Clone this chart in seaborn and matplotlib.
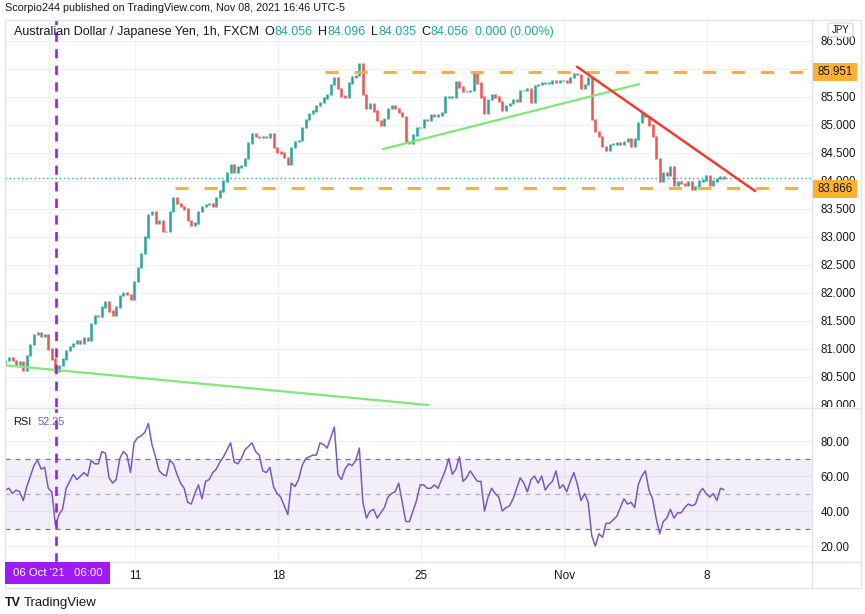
import numpy as np
import pandas as pd
import matplotlib
matplotlib.use("Agg")
import matplotlib.pyplot as plt
import seaborn as sns
from matplotlib.patches import Rectangle, FancyBboxPatch
from matplotlib.lines import Line2D
from matplotlib.transforms import Bbox, TransformedBbox

# ---------------- data (3-hour bars) ----------------
OPEN_FIRST = 80.72
CLOSES = [
    80.80, 80.85, 80.80, 80.72, 80.78, 80.62, 80.88, 81.08, 81.26, 81.30,
    81.22, 81.25, 81.00, 80.82, 80.60, 80.70, 80.82, 80.97, 81.05, 81.10,
    81.15, 81.10, 81.20, 81.15, 81.45, 81.60, 81.58, 81.75, 81.84, 81.68,
    81.60, 81.75, 81.95, 82.00, 81.97, 81.88, 82.20, 82.45, 82.70, 83.00,
    83.40, 83.45, 83.25, 83.30, 83.10, 83.10, 83.45, 83.70, 83.60, 83.55,
    83.50, 83.30, 83.20, 83.25, 83.45, 83.55, 83.58, 83.60, 83.55, 83.70,
    83.82, 84.00, 84.15, 84.30, 84.15, 84.25, 84.28, 84.40, 84.68, 84.85,
    84.80, 84.78, 84.80, 84.78, 84.85, 84.60, 84.52, 84.50, 84.42, 84.30,
    84.60, 84.70, 84.72, 84.95, 85.10, 85.20, 85.25, 85.35, 85.40, 85.48,
    85.55, 85.72, 85.85, 85.65, 85.52, 85.50, 85.75, 85.86, 85.88, 86.10,
    85.55, 85.30, 85.38, 85.25, 85.08, 85.00, 85.12, 85.30, 85.35, 85.30,
    85.22, 85.15, 84.70, 84.68, 84.82, 84.95, 84.95, 85.10, 85.08, 85.18,
    85.15, 85.18, 85.22, 85.50, 85.50, 85.50, 85.78, 85.68, 85.60, 85.60,
    85.62, 85.95, 85.75, 85.50, 85.20, 85.45, 85.55, 85.50, 85.42, 85.27,
    85.35, 85.38, 85.45, 85.42, 85.62, 85.62, 85.65, 85.40, 85.70, 85.72,
    85.75, 85.75, 85.75, 85.80, 85.76, 85.80, 85.80, 85.76, 85.85, 85.92,
    85.90, 85.65, 85.72, 85.85, 85.10, 84.88, 84.80, 84.62, 84.55, 84.65,
    84.66, 84.68, 84.66, 84.70, 84.75, 84.62, 84.75, 85.05, 85.20, 85.15,
    85.00, 84.80, 84.40, 84.00, 84.15, 84.10, 84.25, 83.92, 83.98, 83.95,
    83.92, 83.98, 83.86, 83.90, 84.00, 84.02, 84.10, 83.92, 84.00, 84.04,
    84.08, 84.056,
]
RSI = [
    52, 53, 50, 52, 51, 46, 54, 60, 66, 69,
    64, 65, 53, 51, 32, 38, 41, 53, 57, 61,
    58, 60, 62, 60, 69, 67, 67, 74, 73, 59,
    56, 58, 70, 74, 72, 62, 79, 82, 83, 85,
    90, 78, 71, 63, 61, 60, 69, 67, 61, 56,
    53, 45, 44, 50, 55, 47, 57, 58, 62, 64,
    68, 71, 75, 79, 68, 67, 70, 75, 77, 79,
    74, 72, 63, 62, 65, 54, 50, 48, 43, 38,
    56, 54, 58, 66, 70, 71, 72, 72, 79, 78,
    76, 82, 88, 61, 58, 64, 67, 66, 69, 76,
    45, 36, 40, 41, 36, 39, 42, 48, 50, 51,
    56, 45, 34, 34, 40, 46, 55, 55, 53, 53,
    55, 53, 58, 63, 70, 61, 64, 71, 57, 59,
    63, 60, 57, 57, 40, 48, 53, 50, 48, 40,
    42, 43, 47, 53, 59, 56, 51, 58, 60, 56,
    60, 52, 55, 57, 63, 53, 55, 51, 57, 62,
    55, 46, 50, 45, 26, 20, 27, 25, 33, 33,
    35, 37, 42, 47, 44, 45, 42, 55, 60, 63,
    52, 47, 36, 27, 34, 36, 41, 36, 39, 39,
    42, 44, 43, 44, 50, 53, 50, 48, 50, 46,
    53, 52.25,
]
RSI_LAST = "52.25"

WEEK_LABELS = ["11", "18", "25", "Nov", "8"]
BARS_PER_WEEK = 40          # 5 trading days of 3-hour bars
FIRST_MONDAY_BAR = 36.3     # Oct 11 00:00
OCT6_BAR = 12.3             # Oct 6 00:00 (label hidden by crosshair)
CROSS_BAR = 14.3            # Oct 6 06:00
CROSS_LABEL = "06 Oct '21   06:00"

LEVEL_HI, LEVEL_HI_FROM = 85.951, 89.4
LEVEL_LO, LEVEL_LO_FROM = 83.866, 47.5
LAST_PRICE = 84.056

GREEN_LOW_X, GREEN_LOW_Y = [-0.1, 118.2], [80.71, 80.00]
GREEN_UP_X, GREEN_UP_Y = [105.6, 177.2], [84.57, 85.73]
RED_X, RED_Y = [159.9, 209.7], [86.04, 83.82]

PRICE_TICKS = [80.0, 80.5, 81.0, 81.5, 82.0, 82.5, 83.0, 83.5, 84.0,
               84.5, 85.0, 85.5, 86.0, 86.5]
HIDDEN_PRICE_LABELS = [86.0]      # covered by the 85.951 marker
RSI_TICKS = [20, 40, 60, 80]

HEADER = "Scorpio244 published on TradingView.com, Nov 08, 2021 16:46 UTC-5"
SYMBOL = "Australian Dollar / Japanese Yen, 1h, FXCM"
OHLC = [("O", "84.056"), ("H", "84.096"), ("L", "84.035"), ("C", "84.056")]
CHANGE = "0.000 (0.00%)"

# ---------------- style ----------------
UP, DOWN = "#26a69a", "#ef5350"
GRID = "#eef0f4"
FRAME = "#e0e3eb"
TXT = "#131722"
PURPLE = "#9d1cf5"
ORANGE = "#ffb02e"
RSI_C = "#7e57c2"

sns.set_style("white")
plt.rcParams['font.family'] = ['Liberation Sans', 'DejaVu Sans']

W, H = 865, 614
fig = plt.figure(figsize=(W / 100, H / 100), dpi=100)
renderer = fig.canvas.get_renderer()


def fx(px):
    return px / W


def fy(py):
    return 1 - py / H


def chain(x0, ypx, parts, size, **kw):
    """Write text parts one after another, starting at pixel x0."""
    x = x0
    arts = []
    for s, color, gap in parts:
        t = fig.text(fx(x), fy(ypx), s, ha='left', va='center', fontsize=size,
                     color=color, **kw)
        w = t.get_window_extent(renderer).width
        x += w + gap * size * 100 / 72.0
        arts.append(t)
    return x, arts


def fitted_chain(x0, x1, ypx, parts, ref_size=10.0, **kw):
    end, arts = chain(x0, ypx, parts, ref_size, **kw)
    for a in arts:
        a.remove()
    size = ref_size * (x1 - x0) / (end - x0)
    chain(x0, ypx, parts, size, **kw)


L, R = 5, 812
XMIN, XMAX = -0.1, 225.6
ax = fig.add_axes([fx(L), fy(407), fx(R) - fx(L), fy(20) - fy(407)])
ax2 = fig.add_axes([fx(L), fy(562), fx(R) - fx(L), fy(408) - fy(562)])

week_pos = [FIRST_MONDAY_BAR + k * BARS_PER_WEEK for k in range(len(WEEK_LABELS))]
grid_pos = [OCT6_BAR] + week_pos

# ---------------- main price pane ----------------
closes = np.array(CLOSES)
opens = np.concatenate([[OPEN_FIRST], closes[:-1]])
bars = np.arange(len(closes))
lo = np.minimum(opens, closes)
hi = np.maximum(opens, closes)
up = closes >= opens

for p in PRICE_TICKS:
    ax.axhline(p, color=GRID, lw=1, zorder=0)
for g in grid_pos:
    ax.axvline(g, color=GRID, lw=1, zorder=0)

ax.vlines(bars[up], lo[up] - 0.012, hi[up] + 0.012, color=UP, lw=1.8, zorder=3)
ax.vlines(bars[~up], lo[~up] - 0.012, hi[~up] + 0.012, color=DOWN, lw=1.8, zorder=3)

ax.axhline(LAST_PRICE, color=UP, lw=1, ls=(0, (1, 2)), zorder=2)
ax.plot([LEVEL_HI_FROM, XMAX], [LEVEL_HI, LEVEL_HI], color=ORANGE, lw=2.2,
        ls=(0, (4.3, 5.2)), zorder=4, solid_capstyle='butt')
ax.plot([LEVEL_LO_FROM, XMAX], [LEVEL_LO, LEVEL_LO], color=ORANGE, lw=2.2,
        ls=(0, (4.3, 5.2)), zorder=4, solid_capstyle='butt')
sns.lineplot(x=GREEN_LOW_X, y=GREEN_LOW_Y, ax=ax, color="#7ee878", lw=1.6, zorder=4)
sns.lineplot(x=GREEN_UP_X, y=GREEN_UP_Y, ax=ax, color="#7ee878", lw=1.6, zorder=4)
sns.lineplot(x=RED_X, y=RED_Y, ax=ax, color="#f23b2e", lw=1.8, zorder=4)
ax.axvline(CROSS_BAR, color=PURPLE, lw=1.9, ls=(0, (3.5, 2.8)), zorder=5)

ax.set_xlim(XMIN, XMAX)
ax.set_ylim(79.964, 86.875)
ax.yaxis.tick_right()
ax.set_yticks(PRICE_TICKS)
ax.set_yticklabels(["" if p in HIDDEN_PRICE_LABELS else f"{p:.3f}" for p in PRICE_TICKS])
ax.tick_params(axis='y', length=0, pad=6, labelsize=8.3, labelcolor=TXT)
ax.tick_params(axis='x', bottom=False, labelbottom=False)
ax.set_xlabel("")
ax.set_ylabel("")
for s in ax.spines.values():
    s.set_visible(False)

# price labels are clipped by the pane (80.000 cut at bottom, 84.000 under the 83.866 marker)
lo_box_top = 181 - (LEVEL_LO - 84.0) * 56 - 9
for p, t in zip(PRICE_TICKS, ax.yaxis.get_major_ticks()):
    bottom_px = lo_box_top if p == 84.0 else 407
    cb = TransformedBbox(Bbox([[fx(L), fy(bottom_px)], [1, fy(20)]]), fig.transFigure)
    t.label2.set_clip_on(True)
    t.label2.set_clip_box(cb)

# ---------------- RSI pane ----------------
df = pd.DataFrame({"bar": np.arange(len(RSI)), "rsi": RSI})
for r in RSI_TICKS:
    ax2.axhline(r, color=GRID, lw=1, zorder=0)
for g in grid_pos:
    ax2.axvline(g, color=GRID, lw=1, zorder=0)
ax2.axhspan(30, 70, color=RSI_C, alpha=0.09, lw=0, zorder=0.5)
ax2.axhline(70, color="#787b86", lw=0.9, ls=(0, (4, 4)), zorder=1)
ax2.axhline(30, color="#787b86", lw=0.9, ls=(0, (4, 4)), zorder=1)
ax2.axhline(50, color="#787b86", lw=0.9, ls=(0, (4, 4)), alpha=0.55, zorder=1)
sns.lineplot(data=df, x="bar", y="rsi", ax=ax2, color=RSI_C, lw=1.1, zorder=3)
ax2.axvline(CROSS_BAR, color=PURPLE, lw=1.9, ls=(0, (3.5, 2.8)), zorder=5)

ax2.set_xlim(XMIN, XMAX)
ax2.set_ylim(10.9, 98.9)
ax2.yaxis.tick_right()
ax2.set_yticks(RSI_TICKS)
ax2.set_yticklabels([f"{r:.2f}" for r in RSI_TICKS])
ax2.tick_params(axis='y', length=0, pad=6, labelsize=8.3, labelcolor=TXT)
ax2.set_xticks(week_pos)
ax2.set_xticklabels(WEEK_LABELS)
ax2.tick_params(axis='x', length=0, pad=6, labelsize=8.5, labelcolor=TXT)
ax2.set_xlabel("")
ax2.set_ylabel("")
for s in ax2.spines.values():
    s.set_visible(False)

# ---------------- frame lines ----------------
def fline(x0, y0, x1, y1, color=FRAME, lw=1.0):
    fig.add_artist(Line2D([fx(x0), fx(x1)], [fy(y0), fy(y1)], color=color, lw=lw,
                          transform=fig.transFigure))

fline(5, 20, 861, 20)
fline(5, 588, 861, 588)
fline(5, 20, 5, 588)
fline(861, 20, 861, 588)
fline(812, 20, 812, 588)
fline(5, 407.5, 861, 407.5)
fline(5, 562, 861, 562)

# ---------------- price-axis markers ----------------
def price_box(price, label):
    py = 181 - (price - 84.0) * 56
    fig.add_artist(Rectangle((fx(813), fy(py + 9)), fx(857) - fx(813), (18 / H),
                             transform=fig.transFigure, facecolor=ORANGE,
                             edgecolor='none', zorder=10))
    fig.text(fx(835), fy(py), label, ha='center', va='center', fontsize=8.3,
             color=TXT, zorder=11)

price_box(LEVEL_HI, f"{LEVEL_HI:.3f}")
price_box(LEVEL_LO, f"{LEVEL_LO:.3f}")

fig.add_artist(FancyBboxPatch((fx(828), fy(37)), fx(853) - fx(828), 14 / H,
                              boxstyle="round,pad=0,rounding_size=0.004",
                              transform=fig.transFigure, facecolor='white',
                              edgecolor="#d1d4dc", lw=0.8, zorder=10))
fig.text(fx(840.5), fy(30), "JPY", ha='center', va='center', fontsize=7.0,
         color=TXT, zorder=11)

# ---------------- header / legend ----------------
fitted_chain(5, 343, 8, [(HEADER, TXT, 0)])
legend_parts = [(SYMBOL, TXT, 0.5)]
for k, v in OHLC:
    legend_parts += [(k, TXT, 0.0), (v, UP, 0.45)]
legend_parts.append((CHANGE, UP, 0))
fitted_chain(13.5, 555, 32, legend_parts)

chain(13, 422, [("RSI", TXT, 0.55), (RSI_LAST, RSI_C, 0)], 7.9)

# crosshair date label
fig.add_artist(Rectangle((fx(5), fy(584)), fx(110) - fx(5), 22 / H,
                         transform=fig.transFigure, facecolor=PURPLE,
                         edgecolor='none', zorder=10))
fig.text(fx(57.5), fy(573), CROSS_LABEL, ha='center', va='center', fontsize=8.2,
         color='white', zorder=11)

# TradingView mark
fig.text(fx(5), fy(603), "TV", ha='left', va='center', fontsize=9, color=TXT,
         fontweight='heavy')
fig.text(fx(24), fy(603), "TradingView", ha='left', va='center', fontsize=9.5,
         color=TXT)

fig.savefig("out.png", dpi=100)
